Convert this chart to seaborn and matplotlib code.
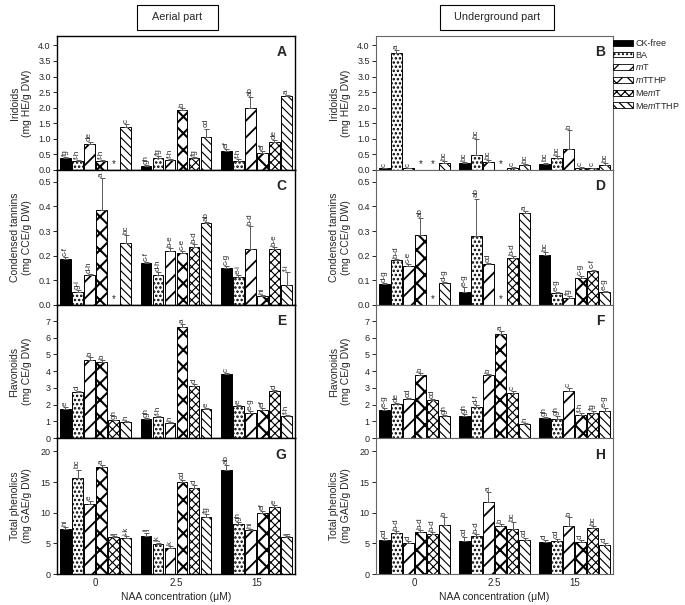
import numpy as np
import pandas as pd
import matplotlib
matplotlib.use("Agg")
import matplotlib.pyplot as plt
from matplotlib.patches import Patch, Rectangle
import seaborn as sns

# ---------------- data ----------------
concentrations = ["0", "2.5", "15"]
treatments = ["CK-free", "BA", "mT", "mTTHP", "MemT", "MemTTHP"]
legend_labels = ["CK-free", "BA", r"$\it{m}$T", r"$\it{m}$TTHP", r"Me$\it{m}$T", r"Me$\it{m}$TTHP"]

# values ordered: for each concentration, the six treatments
irid_aer = [0.37, 0.29, 0.85, 0.28, 0.0, 1.38, 0.13, 0.39, 0.31, 1.93, 0.38, 1.05, 0.61, 0.29, 2.0, 0.56, 0.91, 2.36]
irid_aer_err = [0.05, 0.04, 0.05, 0.05, 0.0, 0.1, 0.02, 0.05, 0.03, 0.05, 0.04, 0.28, 0.06, 0.05, 0.35, 0.06, 0.05, 0.05]
irid_aer_let = ["fg", "f-h", "de", "f-h", "", "c", "gh", "fg", "f-h", "b", "fg", "cd", "ef", "f-h", "ab", "ef", "de", "a"]

irid_und = [0.05, 3.76, 0.05, 0.0, 0.0, 0.24, 0.22, 0.49, 0.26, 0.0, 0.07, 0.15, 0.18, 0.37, 0.67, 0.08, 0.06, 0.16]
irid_und_err = [0.02, 0.08, 0.02, 0.0, 0.0, 0.05, 0.05, 0.5, 0.06, 0.0, 0.03, 0.04, 0.06, 0.07, 0.6, 0.03, 0.02, 0.05]
irid_und_let = ["c", "a", "c", "", "", "bc", "bc", "bc", "bc", "", "c", "bc", "bc", "bc", "b", "c", "c", "bc"]

tann_aer = [0.188, 0.054, 0.12, 0.385, 0.0, 0.25, 0.17, 0.12, 0.22, 0.21, 0.235, 0.333, 0.152, 0.113, 0.229, 0.036, 0.227, 0.08]
tann_aer_err = [0.008, 0.005, 0.005, 0.13, 0.0, 0.035, 0.006, 0.015, 0.01, 0.008, 0.012, 0.005, 0.008, 0.01, 0.09, 0.005, 0.01, 0.055]
tann_aer_let = ["c-f", "g-i", "d-h", "a", "", "bc", "c-f", "d-h", "b-e", "c-e", "b-d", "ab", "c-g", "e-i", "b-d", "hi", "b-e", "f-i"]

tann_und = [0.086, 0.181, 0.159, 0.284, 0.0, 0.088, 0.054, 0.282, 0.166, 0.0, 0.189, 0.374, 0.204, 0.048, 0.03, 0.109, 0.136, 0.052]
tann_und_err = [0.005, 0.006, 0.006, 0.07, 0.0, 0.005, 0.02, 0.15, 0.006, 0.0, 0.01, 0.006, 0.012, 0.004, 0.005, 0.008, 0.008, 0.004]
tann_und_let = ["d-g", "b-d", "c-e", "ab", "", "d-g", "e-g", "ab", "cd", "", "b-d", "a", "bc", "e-g", "fg", "c-g", "c-f", "e-g"]

flav_aer = [1.75, 2.75, 4.65, 4.55, 1.05, 0.96, 1.14, 1.26, 0.9, 6.65, 3.13, 1.75, 3.83, 1.9, 1.5, 1.65, 2.8, 1.3]
flav_aer_err = [0.08, 0.06, 0.2, 0.1, 0.05, 0.04, 0.05, 0.06, 0.05, 0.15, 0.1, 0.06, 0.05, 0.08, 0.1, 0.12, 0.08, 0.06]
flav_aer_let = ["e", "d", "b", "b", "gh", "h", "gh", "f-h", "h", "a", "d", "e", "c", "e", "e-g", "ef", "d", "f-h"]

flav_und = [1.7, 2.05, 2.33, 3.79, 2.25, 1.3, 1.3, 1.86, 3.79, 6.23, 2.7, 0.86, 1.2, 1.14, 2.79, 1.4, 1.5, 1.6]
flav_und_err = [0.1, 0.05, 0.05, 0.12, 0.1, 0.05, 0.15, 0.1, 0.05, 0.15, 0.1, 0.04, 0.08, 0.15, 0.2, 0.12, 0.1, 0.2]
flav_und_let = ["e-g", "de", "cd", "b", "cd", "gh", "gh", "d-f", "b", "a", "c", "h", "gh", "gh", "c", "f-h", "fg", "e-g"]

phen_aer = [7.36, 15.75, 11.5, 17.44, 6.0, 5.94, 6.27, 4.85, 4.3, 14.99, 14.06, 9.37, 16.9, 8.12, 7.14, 10.03, 11.0, 6.0]
phen_aer_err = [0.3, 1.3, 0.4, 0.3, 0.2, 0.3, 0.5, 0.2, 0.2, 0.3, 0.5, 0.4, 0.9, 0.3, 0.2, 0.3, 0.3, 0.2]
phen_aer_let = ["hi", "bc", "e", "a", "ij", "i-k", "ij", "jk", "k", "cd", "d", "fg", "ab", "gh", "hi", "ef", "e", "ij"]

phen_und = [5.5, 6.65, 5.01, 6.81, 6.6, 8.0, 5.4, 6.16, 11.72, 7.85, 7.41, 5.5, 5.18, 5.4, 7.85, 5.18, 7.47, 4.69]
phen_und_err = [0.3, 0.3, 0.3, 0.4, 0.3, 1.3, 0.6, 0.3, 1.6, 0.3, 1.1, 0.3, 0.3, 0.3, 1.4, 0.4, 0.4, 0.3]
phen_und_let = ["cd", "b-d", "d", "b-d", "b-d", "b", "cd", "b-d", "a", "b", "bc", "cd", "d", "cd", "b", "d", "bc", "d"]

ylabels = ["Iridoids\n(mg HE/g DW)", "Condensed tannins\n(mg CCE/g DW)",
           "Flavonoids\n(mg CE/g DW)", "Total phenolics\n(mg GAE/g DW)"]
panel_tags = [["A", "B"], ["C", "D"], ["E", "F"], ["G", "H"]]
xlabel = "NAA concentration (\u03bcM)"
headers = ["Aerial part", "Underground part"]

# ---------------- style ----------------
sns.set_style("ticks")
plt.rcParams["font.family"] = ["Liberation Sans", "DejaVu Sans"]
plt.rcParams["mathtext.fontset"] = "custom"
plt.rcParams["mathtext.it"] = "Liberation Sans:italic"
plt.rcParams["mathtext.rm"] = "Liberation Sans"
plt.rcParams["hatch.linewidth"] = 0.9

hatches = [None, "....", "//", "xx", "xxxx", "\\\\\\\\"]
palette = {t: ("black" if t == "CK-free" else "white") for t in treatments}

fig = plt.figure(figsize=(6.85, 6.05), dpi=100)
W, H = 685.0, 605.0
col_x = [57 / W, 376 / W]
col_w = [238 / W, 237 / W]
row_px = [(36, 170), (170, 305), (305, 438), (438, 574)]

panels = [
    [(irid_aer, irid_aer_err, irid_aer_let), (irid_und, irid_und_err, irid_und_let)],
    [(tann_aer, tann_aer_err, tann_aer_let), (tann_und, tann_und_err, tann_und_let)],
    [(flav_aer, flav_aer_err, flav_aer_let), (flav_und, flav_und_err, flav_und_let)],
    [(phen_aer, phen_aer_err, phen_aer_let), (phen_und, phen_und_err, phen_und_let)],
]
ylims = [(0, 4.3), (0, 0.548), (0, 7.96), (0, 22.2)]
yticks = [np.arange(0, 4.01, 0.5), np.arange(0, 0.501, 0.1), np.arange(0, 7.01, 1), np.arange(0, 20.1, 5)]
yfmt = ["{:.1f}", "{:.1f}", "{:.0f}", "{:.0f}"]

for r in range(4):
    for c in range(2):
        top, bot = row_px[r]
        ax = fig.add_axes([col_x[c], 1 - bot / H, col_w[c], (bot - top) / H])
        vals, errs, lets = panels[r][c]
        df = pd.DataFrame({"conc": np.repeat(concentrations, 6),
                           "treatment": treatments * 3,
                           "value": vals})
        sns.barplot(data=df, x="conc", y="value", hue="treatment",
                    order=concentrations, hue_order=treatments,
                    palette=palette, edgecolor="black", linewidth=0.7,
                    width=0.9, gap=0.12, errorbar=None, legend=False, ax=ax)
        ymax = ylims[r][1]
        bar_containers = list(ax.containers)
        for ti, cont in enumerate(bar_containers):
            for bar in list(cont.patches):
                xc = bar.get_x() + bar.get_width() / 2
                gi = int(round(xc))
                idx = gi * 6 + ti
                if hatches[ti]:
                    bar.set_hatch(hatches[ti])
                    if hasattr(bar, "set_hatch_linewidth"):
                        if ti == 2:
                            bar.set_hatch_linewidth(1.3)
                        elif ti == 3:
                            bar.set_hatch_linewidth(1.5)
                        elif ti == 1:
                            bar.set_hatch_linewidth(1.2)
                        else:
                            bar.set_hatch_linewidth(0.8)
                if vals[idx] == 0:
                    bar.set_visible(False)
                    ax.text(xc, ymax * 0.005, "*", ha="center", va="bottom", fontsize=7)
                    continue
                h = bar.get_height()
                e = errs[idx]
                ax.errorbar([xc], [h], yerr=[[0], [e]], fmt="none", ecolor="0.35",
                            elinewidth=0.7, capsize=1.8, capthick=0.7)
                ax.text(xc, h + e + ymax * 0.008, lets[idx], rotation=90,
                        ha="center", va="bottom", fontsize=5.8, color="0.15")
        ax.set_xlim(-0.48, 2.48)
        ax.set_ylim(*ylims[r])
        ax.set_yticks(yticks[r])
        ax.set_yticklabels([yfmt[r].format(v) for v in yticks[r]], fontsize=6.5)
        ax.tick_params(axis="y", length=3, width=0.7, pad=1.5)
        ax.tick_params(axis="x", length=0, pad=3, labelsize=7)
        ax.set_ylabel(ylabels[r], fontsize=7.5, linespacing=1.3)
        ax.yaxis.set_label_coords(-0.105, 0.5)
        ax.set_xlabel("")
        if r < 3:
            ax.set_xticklabels([])
        else:
            ax.set_xlabel(xlabel, fontsize=7.5, labelpad=3)
        for sp in ax.spines.values():
            sp.set_linewidth(1.0 if c == 0 else 0.8)
            sp.set_color("black" if c == 0 else "0.4")
        ax.text(0.965, 0.93, panel_tags[r][c], transform=ax.transAxes,
                ha="right", va="top", fontsize=10, fontweight="bold")

# header boxes
for (x0, x1), txt in zip([(137, 218), (440, 554)], headers):
    fig.patches.append(Rectangle((x0 / W, 1 - 30 / H), (x1 - x0) / W, 25 / H,
                                 transform=fig.transFigure, fill=False,
                                 edgecolor="black", linewidth=0.8))
    fig.text((x0 + x1) / 2 / W, 1 - 17.5 / H, txt, ha="center", va="center", fontsize=7.8)

# legend
handles = [Patch(facecolor=palette[t], edgecolor="black", hatch=h, linewidth=0.6, label=l)
           for t, h, l in zip(treatments, hatches, legend_labels)]
fig.legend(handles=handles, loc="upper left", bbox_to_anchor=(613 / W, 1 - 39 / H),
           frameon=False, fontsize=6.5, handlelength=2.2, handleheight=0.6,
           labelspacing=0.3, handletextpad=0.25, borderpad=0, borderaxespad=0)

fig.savefig("out.png", dpi=100)
